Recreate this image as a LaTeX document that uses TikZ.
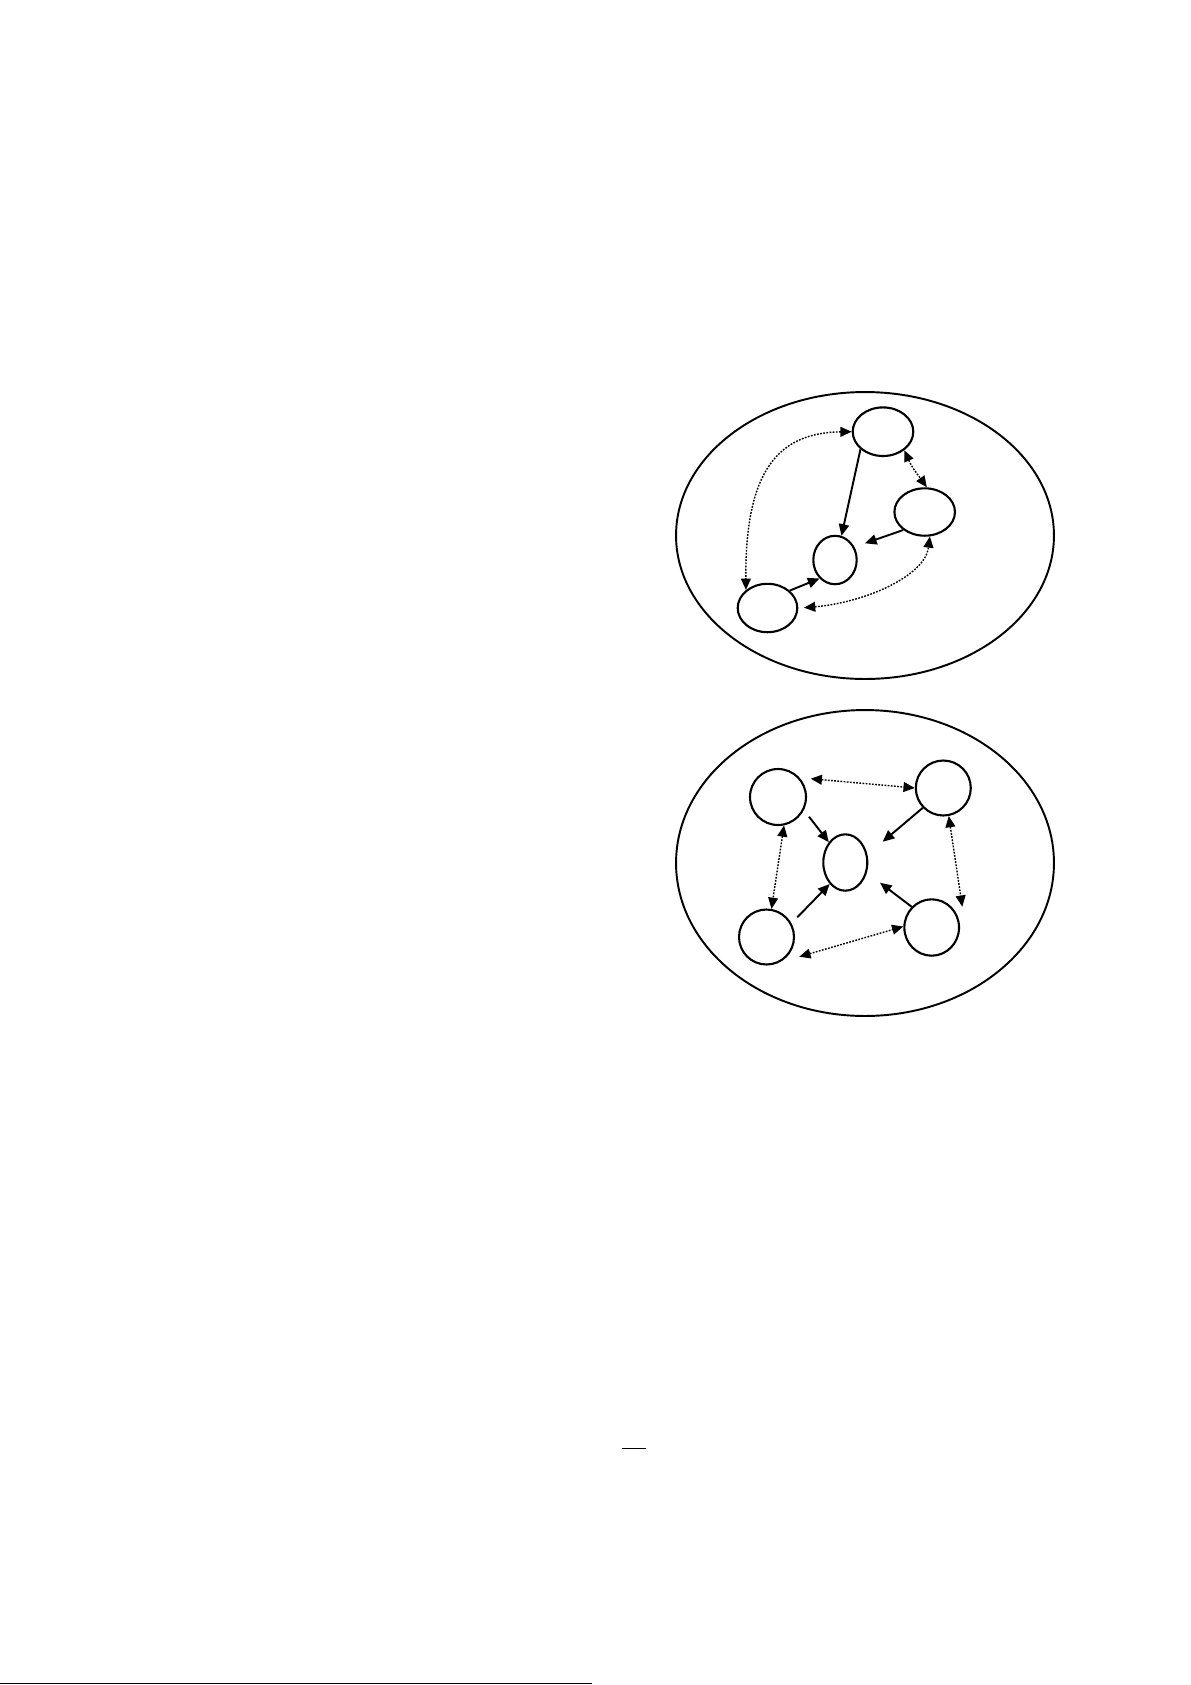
\documentclass[tikz,border=0pt]{standalone}
\usetikzlibrary{shapes.geometric,arrows.meta}
\tikzset{
  ring/.style={draw, ellipse, line width=1.1pt, inner sep=0pt},
  agent/.style={draw, ellipse, line width=1.2pt, inner sep=0pt, fill=white},
  solidarrow/.style={line width=1.1pt, -{Triangle[length=6.6pt,width=5.8pt]}},
  dotarrow/.style={line width=0.8pt, dash pattern=on 1pt off 0.8pt,
     {Triangle[length=6.4pt,width=5.6pt]}-{Triangle[length=6.4pt,width=5.6pt]}},
  rule/.style={line width=0.9pt}
}
\begin{document}
\begin{tikzpicture}[x=0.02cm,y=-0.02cm]
\useasboundingbox (0,0) rectangle (1191,1685);

% ---------- top group ----------
\node[ring, minimum width=7.56cm, minimum height=5.74cm] (topring) at (865,535.5) {};
\node[agent, minimum width=1.212cm, minimum height=0.972cm] (A) at (883,431.7) {};
\node[agent, minimum width=1.212cm, minimum height=0.948cm] (B) at (924.7,512) {};
\node[agent, minimum width=0.868cm, minimum height=0.968cm] (C) at (835,560) {};
\node[agent, minimum width=1.192cm, minimum height=0.968cm] (D) at (767.5,608) {};

\coordinate (bcTip) at (865,543.3);
\coordinate (dbEnd) at (804,607.7);

\draw[solidarrow] (A.218) -- (C.75);
\draw[solidarrow] (B.220) -- (bcTip);
\draw[solidarrow] (D.38) -- (C.230);
\draw[dotarrow] (A.west) .. controls +(-73,1) and +(-1,-120) .. (D.140);
\draw[dotarrow] (A.319) .. controls +(8,18) and +(-10,-14) .. (B.85);
\draw[dotarrow] (dbEnd) .. controls +(60,-5) and +(-5,40) .. (B.-78);

% ---------- bottom group ----------
\node[ring, minimum width=7.56cm, minimum height=6.12cm] (botring) at (865,863) {};
\node[agent, minimum width=1.12cm, minimum height=1.12cm] (TL) at (778,797) {};
\node[agent, minimum width=1.1cm, minimum height=1.1cm] (TR) at (943.3,788) {};
\node[agent, minimum width=0.88cm, minimum height=1.128cm] (M) at (845.3,862.5) {};
\node[agent, minimum width=1.1cm, minimum height=1.1cm] (BL) at (766.5,937) {};
\node[agent, minimum width=1.094cm, minimum height=1.128cm] (BR) at (931.7,927.5) {};

\coordinate (tlOut) at (809,816.7);
\coordinate (trTip) at (882.7,841.7);
\coordinate (blOut) at (797.3,917.3);
\coordinate (brTip) at (880,882.7);
\coordinate (tlSide) at (810.7,778.7);
\coordinate (brSide) at (962.3,906.7);
\coordinate (blSide) at (799.3,956.7);

\draw[solidarrow] (tlOut) -- (M.129);
\draw[solidarrow] (TR.224) -- (trTip);
\draw[solidarrow] (blOut) -- (M.234);
\draw[solidarrow] (BR.134) -- (brTip);
\draw[dotarrow] (tlSide) -- (TR.west);
\draw[dotarrow] (TL.-78) -- (BL.80);
\draw[dotarrow] (TR.-79) -- (brSide);
\draw[dotarrow] (blSide) -- (BR.178);

% ---------- page marks ----------
\coordinate (barL) at (622.3,1448.3);
\coordinate (barR) at (645.7,1448.3);
\draw[rule] (barL) -- (barR);
\coordinate (footL) at (0,1683.5);
\coordinate (footR) at (592.3,1683.5);
\draw[line width=1.1pt] (footL) -- (footR);
\end{tikzpicture}
\end{document}
